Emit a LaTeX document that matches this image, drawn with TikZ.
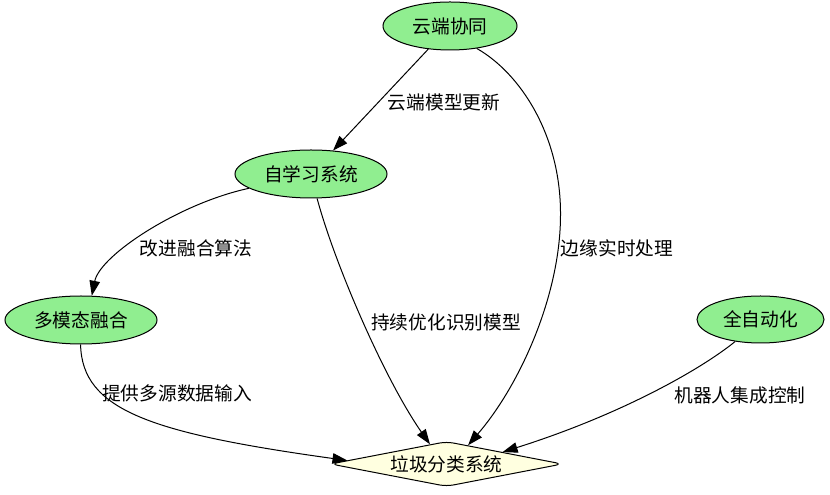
\documentclass[tikz,border=0pt]{standalone}
\usepackage{fontspec}
\setmainfont{Noto Sans CJK SC}
\usetikzlibrary{shapes.geometric,arrows.meta}
\definecolor{nodegreen}{HTML}{90EE90}
\definecolor{nodeyellow}{HTML}{FFFFE0}
\begin{document}
\begin{tikzpicture}[x=1pt,y=1pt,
  every node/.style={font=\fontsize{18.7}{22}\selectfont},
  ell/.style={ellipse,draw=black,fill=nodegreen,line width=1pt,inner sep=0pt},
  dia/.style={diamond,draw=black,fill=nodeyellow,line width=1pt,inner sep=0pt,
              rounded corners=7pt,aspect=5.2,minimum width=232pt,minimum height=45pt},
  edge/.style={draw=black,line width=1pt,-{Triangle[length=15pt,width=10.5pt]}},
  lbl/.style={inner sep=0pt,anchor=center}]
\fill[white] (0,0) rectangle (830,495);
\useasboundingbox (0,0) rectangle (830,495);

\node[ell,minimum width=134pt,minimum height=48pt] (cloud) at (450,469) {云端协同};
\node[ell,minimum width=152pt,minimum height=48pt] (self) at (311,321) {自学习系统};
\node[ell,minimum width=152pt,minimum height=48pt] (multi) at (81,175) {多模态融合};
\node[ell,minimum width=127pt,minimum height=47pt] (auto) at (760.5,175.5) {全自动化};
\node[dia] (g) at (446.5,31) {垃圾分类系统};

\draw[edge] (cloud) -- (self);
\draw[edge] (cloud.-40) .. controls (520,422) and (561,360) .. (560.5,280)
            .. controls (560.5,200) and (520,110) .. (g.41);
\draw[edge] (self.193) .. controls (180,292) and (100,240) .. (multi.66);
\draw[edge] (self.-76) .. controls (335,230) and (385,115) .. (g.130);
\draw[edge] (multi.-91) .. controls (82,85) and (150,62) .. (g.178);
\draw[edge] (auto.221) .. controls (700,125) and (620,80) .. (g.12);

\node[lbl] (l1) at (444,393) {云端模型更新};
\node[lbl] (l2) at (617,247) {边缘实时处理};
\node[lbl] (l3) at (196,247) {改进融合算法};
\node[lbl] (l4) at (446,173) {持续优化识别模型};
\node[lbl] (l5) at (177,102) {提供多源数据输入};
\node[lbl] (l6) at (740,100) {机器人集成控制};
\end{tikzpicture}
\end{document}
